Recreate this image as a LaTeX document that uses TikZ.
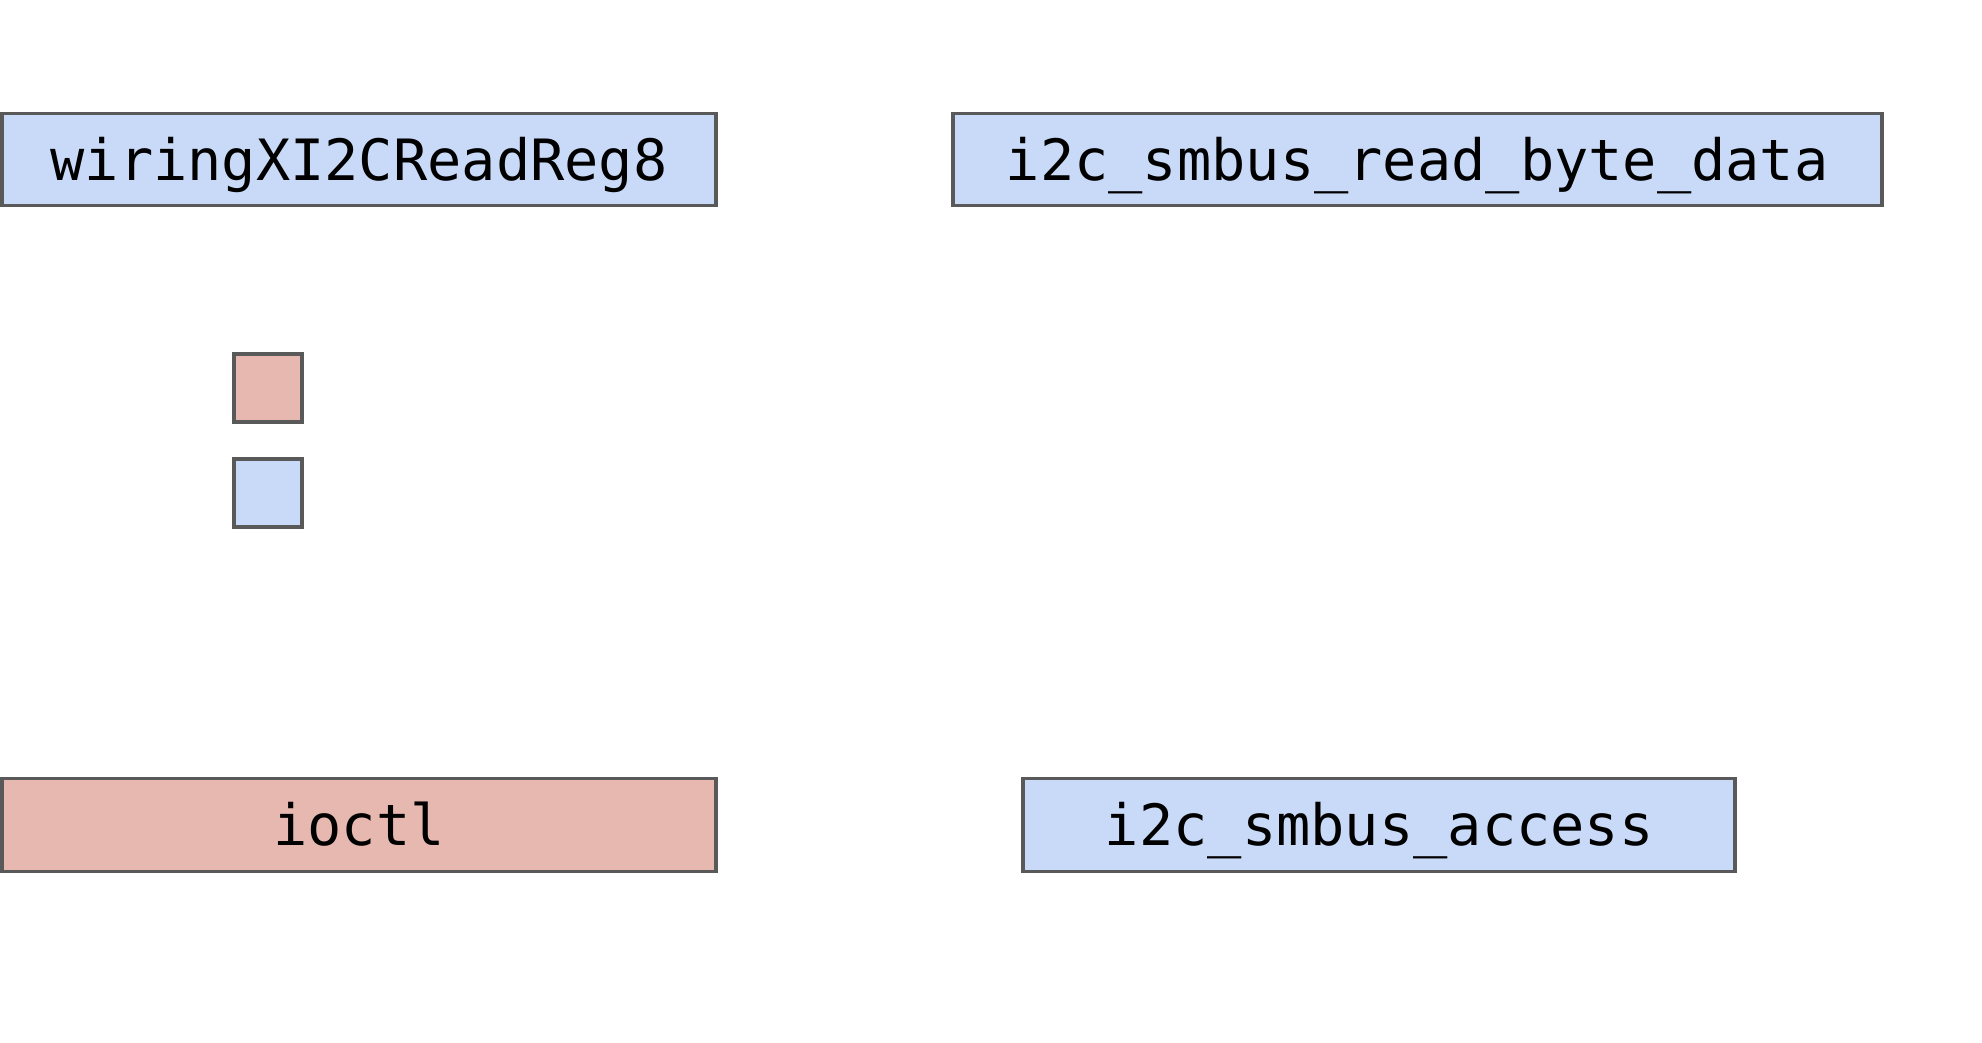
\documentclass[tikz,border=0pt]{standalone}
\usepackage{fontspec}
\setmonofont{DejaVu Sans Mono}
\usepackage{tikz}
\definecolor{callblue}{HTML}{C9DAF8}
\definecolor{callred}{HTML}{E6B8AF}
\definecolor{callgray}{HTML}{595959}
\tikzset{
    every node/.style={rectangle, inner sep=0mm, draw=callgray, line width=2.8pt,
        font=\ttfamily\fontsize{40.5pt}{45pt}\selectfont, text height=29.5pt, text depth=0pt}
}
\tikzset{user/.style={fill=callblue}, kernel/.style={fill=callred}}

\begin{document}
\begin{tikzpicture}
        \useasboundingbox (0cm, 0cm) rectangle (49.550000cm, 26.050000cm);
        \node (v0) [user, minimum width=17.867500cm, minimum height=2.300000cm] at (8.975000cm, 22.062500cm) {wiringXI2CReadReg8};
        \node (v1) [user, minimum width=23.220000cm, minimum height=2.300000cm] at (35.430000cm, 22.062500cm) {i2c\_smbus\_read\_byte\_data};
        \node (v2) [kernel, minimum size=1.717500cm] at (6.700000cm, 16.350000cm) {};
        \node (v3) [user, minimum size=1.717500cm] at (6.700000cm, 13.725000cm) {};
        \node (v4) [kernel, minimum width=17.867500cm, minimum height=2.325000cm] at (8.975000cm, 5.425000cm) {ioctl};
        \node (v5) [user, minimum width=17.800000cm, minimum height=2.325000cm] at (34.480000cm, 5.425000cm) {i2c\_smbus\_access};
\end{tikzpicture}
\end{document}
